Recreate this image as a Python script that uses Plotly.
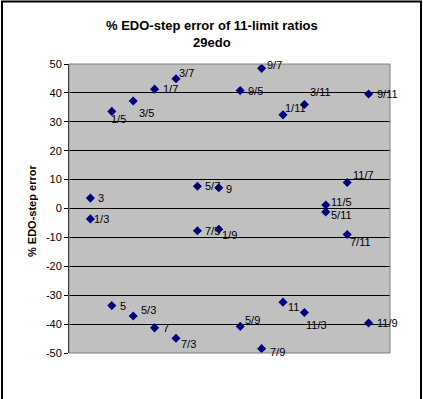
import plotly.graph_objects as go

# ---- data ----
positions = list(range(1, 15))
upper_labels = ["3", "1/5", "3/5", "1/7", "3/7", "5/7", "9", "9/5", "9/7", "1/11", "3/11", "11/5", "11/7", "9/11"]
upper_values = [3.6, 33.6, 37.2, 41.3, 44.9, 7.7, 7.2, 40.8, 48.5, 32.4, 36.0, 1.2, 9.0, 39.6]
lower_labels = ["1/3", "5", "5/3", "7", "7/3", "7/5", "1/9", "5/9", "7/9", "11", "11/3", "5/11", "7/11", "11/9"]
lower_values = [-3.6, -33.6, -37.2, -41.3, -44.9, -7.7, -7.2, -40.8, -48.5, -32.4, -36.0, -1.2, -9.0, -39.6]
y_ticks = [-50, -40, -30, -20, -10, 0, 10, 20, 30, 40, 50]

# ---- label placement (pixel offsets: dx right, dy down) ----
upper_offsets = [(8, 0), (-1, 8), (6, 12), (8, 0), (3, -6), (8, 0), (7, 1), (8, 0), (5, -3),
                 (2, -7), (6, -12), (5, -3), (6, -7), (8, 0)]
lower_offsets = [(4, 0), (8, 0), (8, -6), (8, 0), (5, 6), (8, 0), (3, 6), (5, -6), (8, 3),
                 (5, 5), (2, 12), (5, 3), (3, 7), (8, 0)]

W, H = 423, 399
ML, MR, MT, MB = 69, 33, 64, 46
PW, PH = W - ML - MR, H - MT - MB

FONT = "Liberation Sans, Arial, sans-serif"
NAVY = "#000080"

fig = go.Figure()
for vals, name in [(upper_values, "upper"), (lower_values, "lower")]:
    fig.add_trace(go.Scatter(
        x=positions, y=vals, mode="markers", name=name,
        marker=dict(symbol="diamond", size=7, color=NAVY, line=dict(width=0)),
        hoverinfo="skip", showlegend=False))

annotations = []
for labels, vals, offs in [(upper_labels, upper_values, upper_offsets),
                           (lower_labels, lower_values, lower_offsets)]:
    for xp, v, lab, (dx, dy) in zip(positions, vals, labels, offs):
        annotations.append(dict(
            x=xp, y=v, xref="x", yref="y", text=lab, showarrow=False,
            xanchor="left", yanchor="middle", xshift=dx - 2, yshift=-dy,
            font=dict(family=FONT, size=11, color="black")))

# y axis title
annotations.append(dict(
    xref="paper", yref="paper", x=(32 - ML) / PW, y=0.5 - (211 - (MT + PH / 2)) / PH,
    text="<b>% EDO-step error</b>", textangle=-90, showarrow=False,
    xanchor="center", yanchor="middle",
    font=dict(family=FONT, size=11, color="black")))
# chart title
annotations.append(dict(
    xref="paper", yref="paper", x=(211.5 - ML) / PW, y=(H - MB - 33.5) / PH,
    text="<b>% EDO-step error of 11-limit ratios<br>29edo</b>", showarrow=False,
    xanchor="center", yanchor="middle",
    font=dict(family=FONT, size=13, color="black")))

shapes = [
    # plot-area border
    dict(type="rect", xref="paper", yref="paper", x0=0, x1=1, y0=0, y1=1,
         line=dict(color="#808080", width=1), layer="above"),
    # chart frame
    dict(type="rect", xref="paper", yref="paper",
         x0=(2 - ML) / PW, x1=(421 - ML) / PW,
         y0=(H - MB - 410) / PH, y1=(H - MB - 1.5) / PH,
         line=dict(color="black", width=2)),
]

fig.update_layout(
    width=W, height=H,
    margin=dict(l=ML, r=MR, t=MT, b=MB, pad=0),
    paper_bgcolor="white", plot_bgcolor="#C0C0C0",
    font=dict(family=FONT, size=11, color="black"),
    xaxis=dict(range=[0, 15], visible=False, showgrid=False, zeroline=False, fixedrange=True),
    yaxis=dict(range=[-50, 50], tickvals=y_ticks, ticktext=[str(t) for t in y_ticks],
               showgrid=True, gridcolor="black", gridwidth=1,
               zeroline=True, zerolinecolor="black", zerolinewidth=1,
               showline=True, linecolor="black", linewidth=1,
               ticks="outside", ticklen=4, tickcolor="black",
               tickfont=dict(family=FONT, size=11, color="black"), fixedrange=True),
    annotations=annotations, shapes=shapes,
)

fig.write_html(
    "out.html",
    config=dict(displayModeBar=False),
    post_script="document.body.style.margin='0';document.body.style.overflow='hidden';",
)
